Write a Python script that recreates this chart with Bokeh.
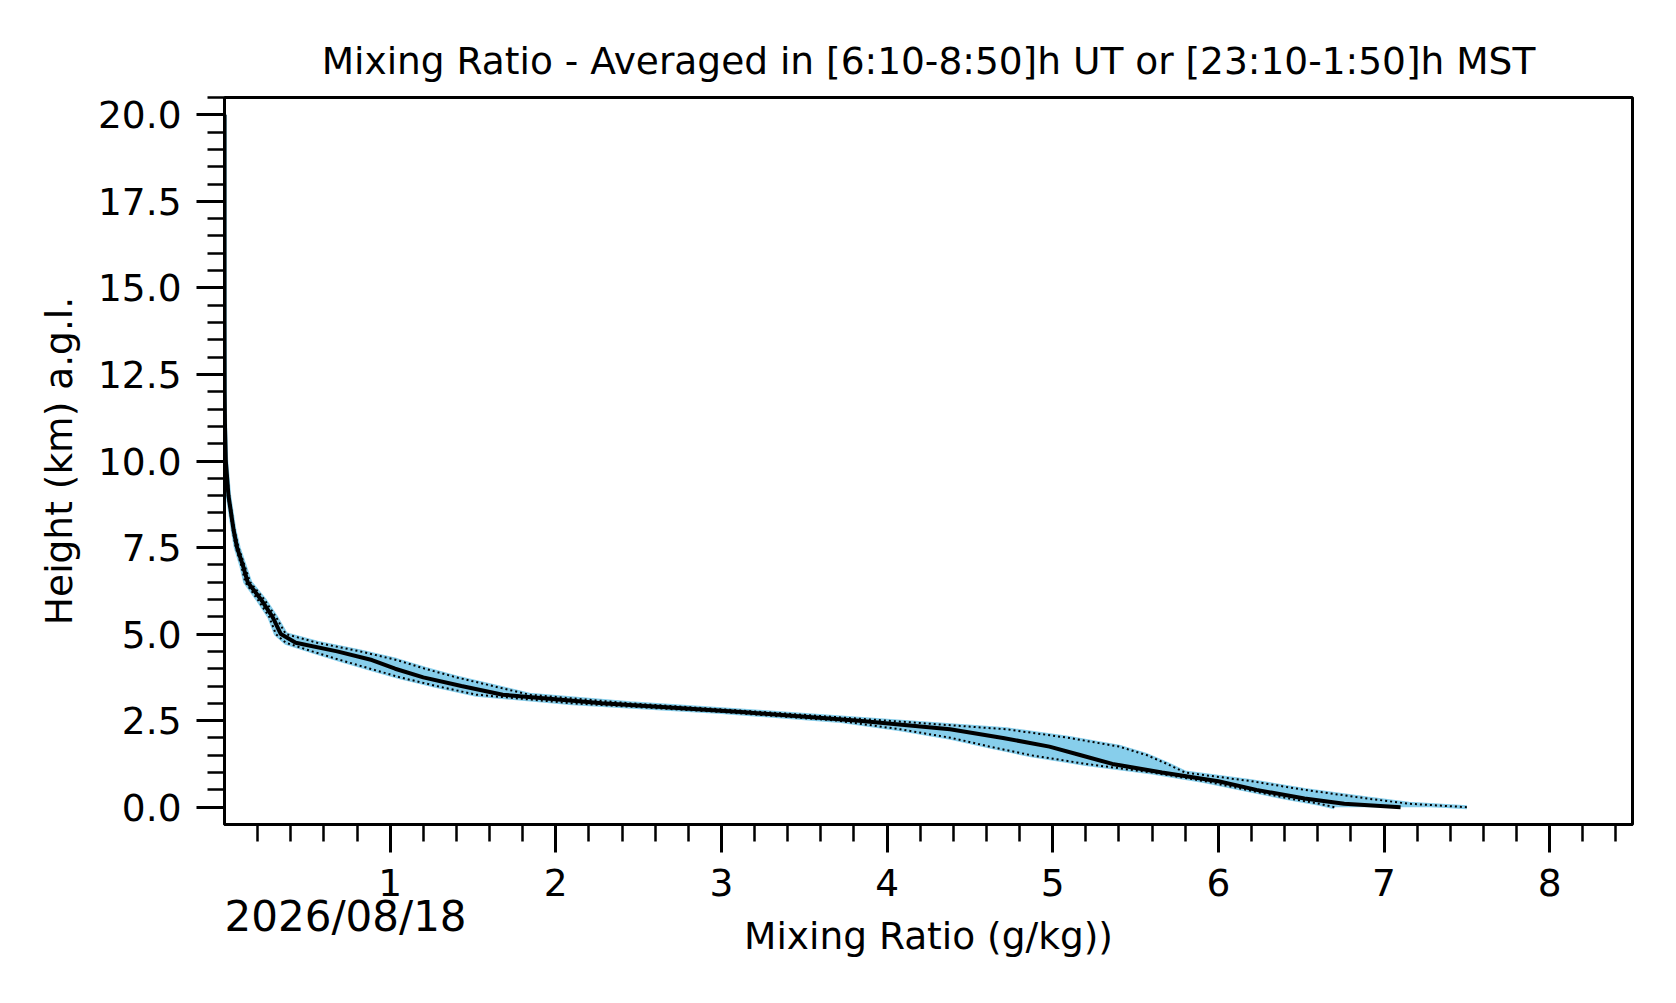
from bokeh.plotting import figure
from bokeh.models import Range1d, FixedTicker, Title, PrintfTickFormatter
from bokeh.embed import file_html
from bokeh.resources import INLINE

heights = [0.0, 0.1, 0.25, 0.5, 0.75, 1.0, 1.25, 1.5, 1.75, 2.0, 2.25, 2.5, 2.75, 3.0, 3.25, 3.5,
           3.75, 4.0, 4.25, 4.5, 4.75, 5.0, 5.5, 6.0, 6.5, 7.0, 7.5, 8.0, 9.0, 10.0, 11.0, 12.0,
           14.0, 16.0, 18.0, 20.0]
mean_mr = [7.10, 6.76, 6.52, 6.23, 6.00, 5.66, 5.36, 5.17, 4.98, 4.70, 4.38, 3.83, 3.12, 2.28,
           1.68, 1.43, 1.20, 1.03, 0.89, 0.68, 0.43, 0.34, 0.29, 0.22, 0.14, 0.11, 0.076, 0.055,
           0.024, 0.008, 0.003, 0.001, 0.0, 0.0, 0.0, 0.0]
low_mr = [6.70, 6.61, 6.43, 6.17, 5.92, 5.60, 5.20, 4.87, 4.62, 4.39, 4.08, 3.70, 3.00, 2.10,
          1.52, 1.28, 1.06, 0.88, 0.70, 0.53, 0.37, 0.31, 0.27, 0.20, 0.125, 0.10, 0.068, 0.05,
          0.02, 0.006, 0.002, 0.0, 0.0, 0.0, 0.0, 0.0]
high_mr = [7.50, 7.15, 6.90, 6.52, 6.20, 5.80, 5.69, 5.57, 5.40, 5.10, 4.72, 4.00, 3.25, 2.45,
           1.84, 1.62, 1.40, 1.21, 1.04, 0.82, 0.56, 0.37, 0.31, 0.24, 0.155, 0.12, 0.085, 0.06,
           0.028, 0.01, 0.004, 0.002, 0.0, 0.0, 0.0, 0.0]

x_ticks = [1, 2, 3, 4, 5, 6, 7, 8]
x_minor = [round(0.2 * i, 1) for i in range(1, 43)]
y_ticks = [0.0, 2.5, 5.0, 7.5, 10.0, 12.5, 15.0, 17.5, 20.0]
y_minor = [0.5 * i for i in range(0, 42)]

title_text = "Mixing Ratio - Averaged in [6:10-8:50]h UT or [23:10-1:50]h MST"
date_text = "2026/08/18"
FONT = "DejaVu Sans"
FS = "37.5px"

p = figure(frame_width=1408, frame_height=727, min_border_left=224, min_border_top=97,
           min_border_right=24, min_border_bottom=150,
           x_range=Range1d(0, 8.5), y_range=Range1d(-0.5, 20.5),
           output_backend="svg", toolbar_location=None, tools="")
p.grid.visible = False
p.outline_line_color = "black"
p.outline_line_width = 3
p.outline_line_alpha = 1.0

p.title.text = title_text
p.title.align = "center"
p.title.text_font = FONT
p.title.text_font_size = FS
p.title.text_font_style = "normal"
p.title.text_color = "black"
p.title.standoff = 30

p.harea(x1=low_mr, x2=high_mr, y=heights, fill_color="#87CEEB", fill_alpha=1.0)
p.line(low_mr, heights, line_color="#87CEEB", line_width=4)
p.line(high_mr, heights, line_color="#87CEEB", line_width=4)
p.line(low_mr, heights, line_color="black", line_width=2, line_dash="2 3")
p.line(high_mr, heights, line_color="black", line_width=2, line_dash="2 3")
p.line(mean_mr, heights, line_color="black", line_width=4)

for ax in (p.xaxis[0], p.yaxis[0]):
    ax.axis_line_width = 3
    ax.major_tick_line_width = 3
    ax.minor_tick_line_width = 2.5
    ax.major_tick_out = 28
    ax.major_tick_in = 0
    ax.minor_tick_out = 17
    ax.minor_tick_in = 0
    ax.major_label_text_font = FONT
    ax.major_label_text_font_size = FS
    ax.major_label_text_color = "black"
    ax.axis_label_text_font = FONT
    ax.axis_label_text_font_size = FS
    ax.axis_label_text_font_style = "normal"
    ax.axis_label_text_color = "black"

p.xaxis.ticker = FixedTicker(ticks=x_ticks, minor_ticks=x_minor)
p.yaxis.ticker = FixedTicker(ticks=y_ticks, minor_ticks=y_minor)
p.yaxis.formatter = PrintfTickFormatter(format="%.1f")
p.xaxis.major_label_standoff = 16
p.yaxis.major_label_standoff = 15
p.xaxis.axis_label = "Mixing Ratio (g/kg))"
p.yaxis.axis_label = "Height (km) a.g.l."
p.xaxis.axis_label_standoff = 15
p.yaxis.axis_label_standoff = 14

date_title = Title(text=date_text, align="left", vertical_align="top", text_font=FONT,
                   text_font_size="42px", text_font_style="normal", text_color="black",
                   standoff=-137)
p.add_layout(date_title, "below")

open("out.html", "w").write(file_html(p, INLINE))
